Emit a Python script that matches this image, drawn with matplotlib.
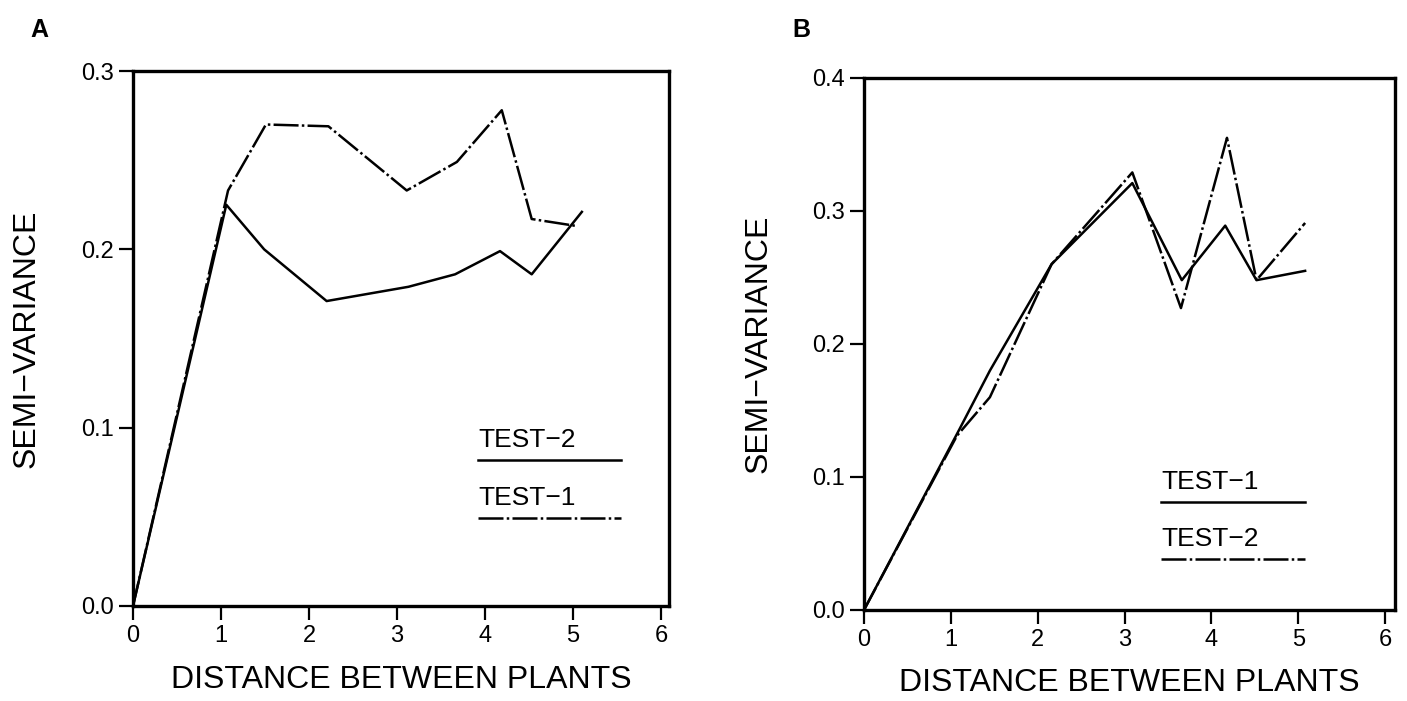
import matplotlib
matplotlib.use("Agg")
import matplotlib.pyplot as plt

plt.rcParams['font.family'] = ['Liberation Sans', 'DejaVu Sans']

# Panel A data
a_test2_x = [0, 1.06, 1.49, 2.2, 3.13, 3.66, 4.17, 4.53, 5.10]
a_test2_y = [0, 0.225, 0.200, 0.171, 0.179, 0.186, 0.199, 0.186, 0.221]
a_test1_x = [0, 1.08, 1.51, 2.22, 3.11, 3.68, 4.19, 4.53, 5.05]
a_test1_y = [0, 0.233, 0.270, 0.269, 0.233, 0.249, 0.278, 0.217, 0.213]

# Panel B data
b_test1_x = [0, 1.1, 1.45, 2.16, 3.09, 3.66, 4.16, 4.52, 5.08]
b_test1_y = [0, 0.136, 0.180, 0.260, 0.321, 0.248, 0.289, 0.248, 0.255]
b_test2_x = [0, 1.07, 1.45, 2.16, 3.09, 3.65, 4.18, 4.52, 5.08]
b_test2_y = [0, 0.131, 0.160, 0.260, 0.329, 0.227, 0.355, 0.248, 0.291]

xticks = [0, 1, 2, 3, 4, 5, 6]
a_yticks = [0.0, 0.1, 0.2, 0.3]
b_yticks = [0.0, 0.1, 0.2, 0.3, 0.4]
xlabel = "DISTANCE BETWEEN PLANTS"
ylabel = "SEMI\u2212VARIANCE"

fig = plt.figure(figsize=(14.07, 7.01), dpi=100)
# panel A: left 133, right 669, top 71, bottom 606 (px)
axA = fig.add_axes([133/1407, 1 - 606/701, 536/1407, 535/701])
# panel B: left 864, right 1395, top 78, bottom 610 (px)
axB = fig.add_axes([864/1407, 1 - 610/701, 531/1407, 532/701])

DASH = (10, 1.3, 1.0, 1.3)
LW = 1.8

def style(ax, yticks, ylim, xlim, ylab_x, xlab_y):
    ax.set_xlim(*xlim)
    ax.set_ylim(*ylim)
    ax.set_xticks(xticks)
    ax.set_xticklabels([str(t) for t in xticks])
    ax.set_yticks(yticks)
    ax.set_yticklabels([f"{t:.1f}" for t in yticks])
    for s in ax.spines.values():
        s.set_linewidth(2.4)
    ax.tick_params(direction='out', length=10, width=1.6, labelsize=17, pad=4)
    ax.set_xlabel(xlabel, fontsize=23)
    ax.xaxis.label.set_va('center')
    ax.xaxis.set_label_coords(0.5, xlab_y)
    ax.set_ylabel(ylabel, fontsize=23)
    ax.yaxis.set_label_coords(ylab_x, 0.5)

# Panel A
axA.plot(a_test2_x, a_test2_y, color='black', lw=LW)
axA.plot(a_test1_x, a_test1_y, color='black', lw=LW, dashes=DASH)
style(axA, a_yticks, (0, 0.3), (0, 6.09), -0.17, -0.138)
axA.text(3.92, 0.0865, "TEST\u22122", fontsize=19, ha='left', va='bottom')
axA.plot([3.92, 5.55], [0.0819, 0.0819], color='black', lw=LW)
axA.text(3.92, 0.0539, "TEST\u22121", fontsize=19, ha='left', va='bottom')
axA.plot([3.92, 5.55], [0.0493, 0.0493], color='black', lw=LW, dashes=DASH)

# Panel B
axB.plot(b_test1_x, b_test1_y, color='black', lw=LW)
axB.plot(b_test2_x, b_test2_y, color='black', lw=LW, dashes=DASH)
style(axB, b_yticks, (0, 0.4), (0, 6.115), -0.17, -0.138)
axB.text(3.42, 0.0875, "TEST\u22121", fontsize=19, ha='left', va='bottom')
axB.plot([3.42, 5.08], [0.0815, 0.0815], color='black', lw=LW)
axB.text(3.42, 0.0445, "TEST\u22122", fontsize=19, ha='left', va='bottom')
axB.plot([3.42, 5.08], [0.0385, 0.0385], color='black', lw=LW, dashes=DASH)

fig.text(30/1407, 1 - 30/701, "A", fontsize=18, fontweight='bold', va='center')
fig.text(792/1407, 1 - 30/701, "B", fontsize=18, fontweight='bold', va='center')

fig.savefig("out.png", dpi=100)
